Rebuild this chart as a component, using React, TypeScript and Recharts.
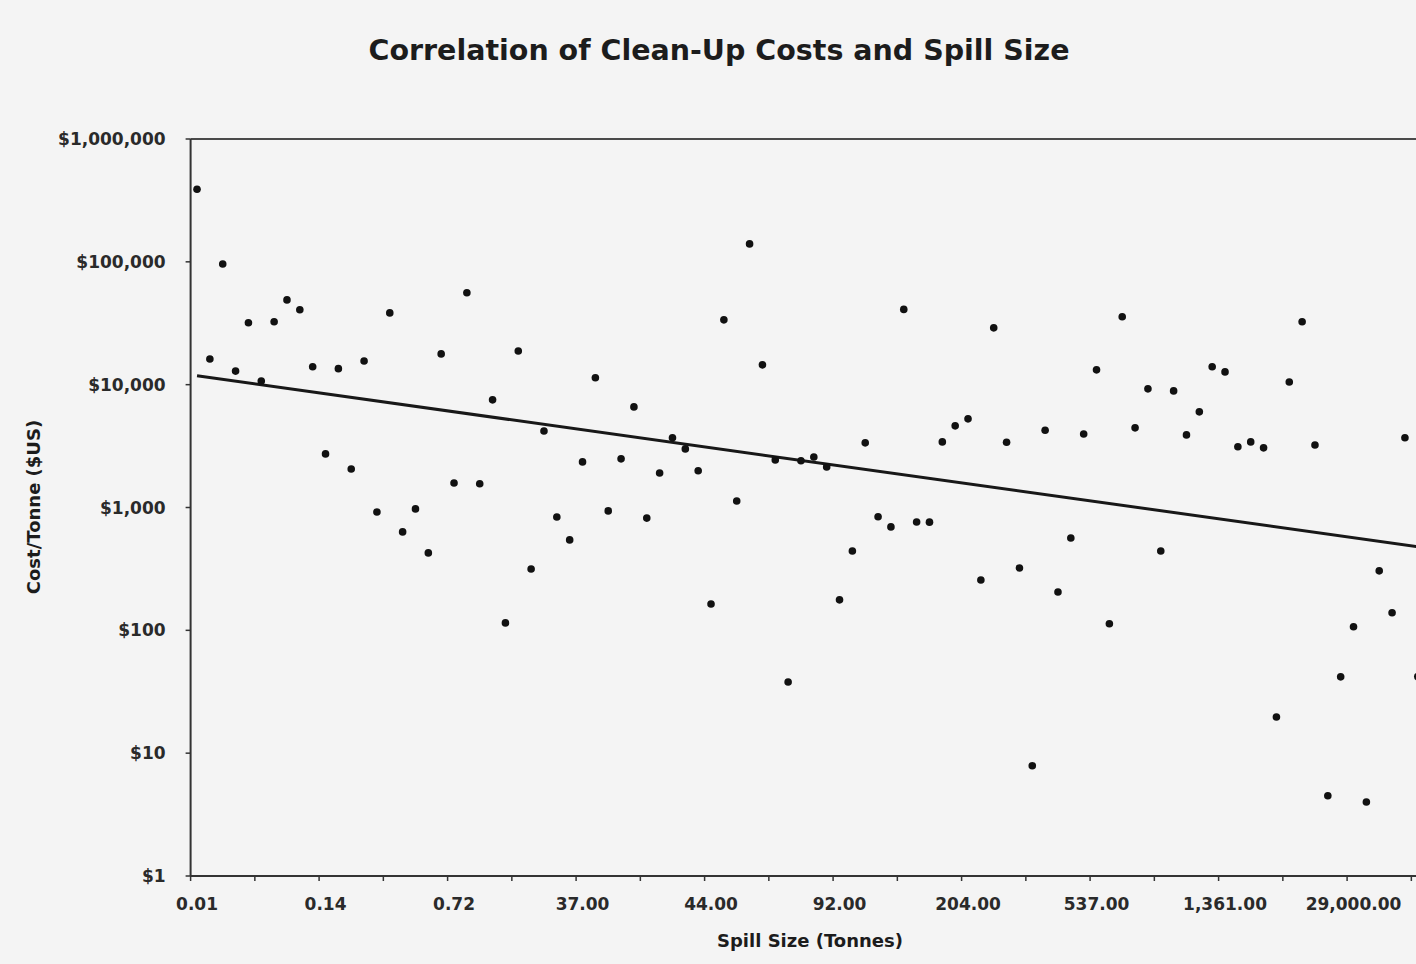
import React from 'react';
import { ComposedChart, Scatter, Line, XAxis, YAxis, ReferenceLine } from 'recharts';

// spill sizes are plotted in rank order; only every 10th one is labelled
const tickLabels = ['0.01', '0.14', '0.72', '37.00', '44.00', '92.00', '204.00', '537.00', '1,361.00', '29,000.00'];

// clean-up cost per tonne ($US), one per spill
const costPerTonne = [
  390000, 16200, 96000, 12900, 31900, 10700, 32500, 49000, 40700, 14000,
  2730, 13500, 2060, 15600, 920, 38400, 633, 974, 427, 17800,
  1585, 56000, 1560, 7520, 115, 18800, 316, 4200, 838, 545,
  2350, 11400, 938, 2490, 6590, 820, 1910, 3690, 3000, 1990,
  164, 33700, 1130, 140000, 14500, 2440, 38, 2400, 2580, 2140,
  177, 443, 3360, 840, 695, 41000, 763, 760, 3420, 4620,
  5270, 257, 29000, 3400, 322, 7.9, 4250, 205, 565, 3970,
  13200, 113, 35700, 4450, 9250, 443, 8900, 3900, 6010, 14000,
  12700, 3120, 3420, 3060, 19.7, 10500, 32500, 3230, 4.5, 41.8,
  107, 4.0, 305, 139, 3700, 42,
];

// exponential trend line, value at the first and the last spill
const trendEnds = [11800, 480];

const yTicks = [1, 10, 100, 1000, 10000, 100000, 1000000];

const CHART_W = 1440;
const CHART_H = 964;
const PLOT_LEFT = 190.6;
const PLOT_RIGHT = 1424.2;
const PLOT_TOP = 139;
const PLOT_BOTTOM = 876;
const N = costPerTonne.length;
const BAND = (PLOT_RIGHT - PLOT_LEFT) / N;

const FONT = '"DejaVu Sans", Arial, sans-serif';
const INK = '#1c1c1c';

const data = costPerTonne.map((cost, i) => ({
  i,
  cost,
  trend: i === 0 ? trendEnds[0] : i === N - 1 ? trendEnds[1] : null,
}));

// tick marks sit between categories, every 5th boundary
const xTicks = Array.from({ length: Math.ceil(N / 5) }, (_, k) => k * 5 - 0.5);

const XTick = (props: any) => {
  const { x, y, payload } = props;
  const c = Math.round(payload.value + 0.5);
  if (c % 10 !== 0 || !tickLabels[c / 10]) return <g />;
  return (
    <text
      x={x + BAND / 2}
      y={y}
      dy="0.71em"
      textAnchor="middle"
      fontFamily={FONT}
      fontWeight="bold"
      fontSize={17}
      fill="#2a2a2a"
    >
      {tickLabels[c / 10]}
    </text>
  );
};

const Dot = (props: any) => <circle cx={props.cx} cy={props.cy} r={3.8} fill="#111" />;

const fmtMoney = (v: number) => '$' + v.toLocaleString('en-US');

export default function App() {
  return (
    <div
      style={{
        position: 'fixed',
        left: 0,
        top: 0,
        width: 1416,
        height: 964,
        overflow: 'hidden',
        background: '#f4f4f4',
      }}
    >
      <div
        style={{
          position: 'absolute',
          left: 219,
          width: 1000,
          top: 35,
          textAlign: 'center',
          fontFamily: FONT,
          fontWeight: 'bold',
          fontSize: 28.5,
          lineHeight: '32px',
          color: INK,
        }}
      >
        Correlation of Clean-Up Costs and Spill Size
      </div>

      <div
        style={{
          position: 'absolute',
          left: 610,
          width: 400,
          top: 929,
          textAlign: 'center',
          fontFamily: FONT,
          fontWeight: 'bold',
          fontSize: 18,
          lineHeight: '24px',
          color: INK,
        }}
      >
        Spill Size (Tonnes)
      </div>

      <div
        style={{
          position: 'absolute',
          left: 34 - 150,
          width: 300,
          top: 507 - 12,
          textAlign: 'center',
          transform: 'rotate(-90deg)',
          fontFamily: FONT,
          fontWeight: 'bold',
          fontSize: 18,
          lineHeight: '24px',
          color: INK,
        }}
      >
        Cost/Tonne ($US)
      </div>

      <div style={{ position: 'absolute', left: 0, top: 0 }}>
        <ComposedChart
          width={CHART_W}
          height={CHART_H}
          data={data}
          margin={{ top: PLOT_TOP, right: CHART_W - PLOT_RIGHT, bottom: 0, left: PLOT_LEFT - 190 }}
        >
          <XAxis
            dataKey="i"
            type="number"
            domain={[-0.5, N - 0.5]}
            ticks={xTicks}
            interval={0}
            allowDataOverflow
            height={CHART_H - PLOT_BOTTOM}
            tickSize={5}
            tickMargin={17}
            tick={<XTick />}
            axisLine={{ stroke: '#333', strokeWidth: 2 }}
            tickLine={{ stroke: '#333', strokeWidth: 1.5 }}
          />
          <YAxis
            type="number"
            scale="log"
            domain={[1, 1000000]}
            ticks={yTicks}
            interval={0}
            allowDataOverflow
            width={190}
            tickSize={5}
            tickMargin={20}
            tickFormatter={fmtMoney}
            tick={{ fontFamily: FONT, fontWeight: 'bold', fontSize: 17, fill: '#2a2a2a' }}
            axisLine={{ stroke: '#333', strokeWidth: 2 }}
            tickLine={{ stroke: '#333', strokeWidth: 1.5 }}
          />
          <ReferenceLine y={1000000} stroke="#4a4a4a" strokeWidth={2} ifOverflow="extendDomain" />
          <Line
            dataKey="trend"
            type="linear"
            stroke="#181818"
            strokeWidth={3}
            dot={false}
            activeDot={false}
            connectNulls
            isAnimationActive={false}
          />
          <Scatter dataKey="cost" shape={<Dot />} isAnimationActive={false} />
        </ComposedChart>
      </div>
    </div>
  );
}
